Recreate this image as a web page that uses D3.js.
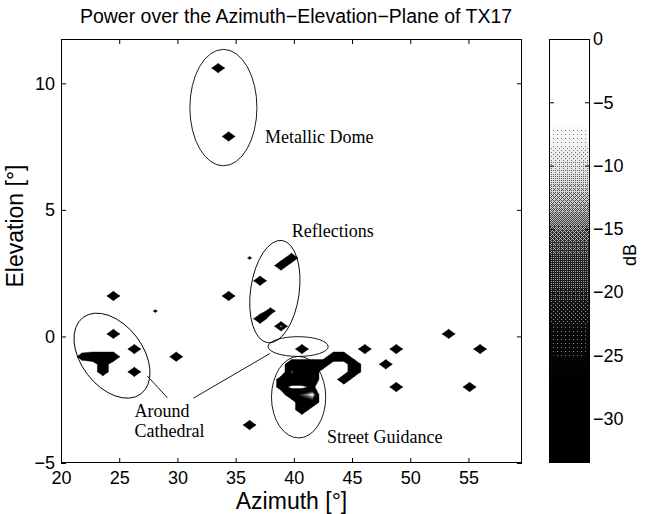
<!DOCTYPE html>
<html>
<head>
<meta charset="utf-8">
<script src="https://cdn.jsdelivr.net/npm/d3@7"></script>
<style>
  html, body { margin: 0; padding: 0; background: #fff; }
  svg { display: block; }
</style>
</head>
<body>
<svg id="chart" width="650" height="514"></svg>
<script>
// ---- axis ticks -------------------------------------------------------
const azTicks = [20, 25, 30, 35, 40, 45, 50, 55];
const elTicks = [-5, 0, 5, 10];
const dbTicks = [0, -5, -10, -15, -20, -25, -30];

// ---- measured power on the 0.9 deg x 0.3 deg beam grid ------------------
// [azimuth deg, elevation deg, level dB]; cells not listed are empty
const domePeaks = [[33.5, 10.6, -30], [34.4, 7.9, -30]];
const reflectionPeaks = [
  [37.1, 2.2, -30], [38.9, 2.8, -30], [39.8, 3.1, -30],
  [37.1, 0.7, -30], [38.0, 1.0, -39], [38.9, 0.4, -14]
];
const cathedralPeaks = [
  [21.8, -0.8, -38], [22.7, -0.8, -30], [23.6, -0.8, -30], [24.5, -0.8, -30],
  [23.6, -1.1, -36], [23.6, -1.4, -36]
];
const streetPeaks = [
  [39.8, -1.1, -30], [40.7, -1.1, -30], [41.6, -1.1, -30], [42.5, -1.1, -30],
  [39.8, -1.4, -20], [40.7, -1.4, -30], [41.6, -1.4, -30],
  [38.9, -1.7, -40], [39.8, -1.7, -30], [40.7, -1.7, -30], [41.6, -1.7, -30],
  [38.9, -2.0, -40], [39.8, -2.0, -53], [40.7, -2.0, -53], [41.6, -2.0, -45],
  [39.8, -2.3, -30], [40.7, -2.3, -20], [41.6, -2.3, -6],
  [40.7, -2.6, -30], [41.6, -2.6, -30],
  [40.7, -2.9, -30],
  [43.4, -0.8, -30], [44.3, -0.8, -30], [45.2, -1.1, -30], [45.2, -1.4, -30], [44.3, -1.7, -30]
];
const scatteredPeaks = [
  [24.5, 1.6, -30], [34.4, 1.6, -30], [24.5, 0.1, -30], [26.3, -0.5, -30],
  [29.9, -0.8, -30], [26.3, -1.4, -30], [36.2, -3.5, -30], [40.7, -0.5, -30],
  [46.1, -0.5, -30], [48.8, -0.5, -30], [47.9, -1.1, -30], [48.8, -2.0, -30],
  [53.3, 0.1, -30], [56.0, -0.5, -30], [55.1, -2.0, -30],
  [36.2, 3.1, -46], [28.1, 1.0, -46]
];

// ---- grey colour map (dB -> luminance) -------------------------------
const cmapDb  = [0, -6.5, -8, -10, -12, -14, -15.5, -17, -19.5, -21, -23, -25, -27.5, -34];
const cmapLum = [1, 1, 0.93, 0.82, 0.68, 0.52, 0.38, 0.28, 0.22, 0.14, 0.07, 0.035, 0, 0];

// ---- layout -----------------------------------------------------------
const svg = d3.select("#chart");
const plot = { l: 61, r: 522, t: 39, b: 463 };
const bar = { l: 549, r: 590 };
const AZ = [20, 59.6], EL = [-5, 11.75], DB_MIN = -33.5;

const x = d3.scaleLinear().domain(AZ).range([plot.l, plot.r]);
const y = d3.scaleLinear().domain(EL).range([plot.b, plot.t]);
const c = d3.scaleLinear().domain([DB_MIN, 0]).range([plot.b, plot.t]);
const lum = d3.scaleLinear().domain(cmapDb).range(cmapLum).clamp(true);
const grey = v => { const g = Math.round(255 * lum(v)); return d3.rgb(g, g, g).toString(); };

const sans = "'Liberation Sans', Arial, Helvetica, sans-serif";
const serif = "'Liberation Serif', 'Times New Roman', Times, serif";

// ---- title --------------------------------------------------------------
svg.append("text")
  .attr("x", 296).attr("y", 23)
  .attr("text-anchor", "middle")
  .style("font-family", sans).style("font-size", "19.5px")
  .text("Power over the Azimuth\u2212Elevation\u2212Plane of TX17");

// ---- beam grid and filled contours (linear along cell edges) ------------
const FLOOR = -60;      // empty cell
const BODY = -30;       // cap used for the outline of every detected path
const T_BODY = -48.6;   // lowest filled contour level
const GA = 0.9, GE = 0.3;
const gnx = Math.round((AZ[1] - AZ[0]) / GA) + 2;
const gny = Math.round((EL[1] - EL[0]) / GE) + 2;
const grid = new Float64Array(gnx * gny).fill(FLOOR);
[].concat(domePeaks, reflectionPeaks, cathedralPeaks, streetPeaks, scatteredPeaks)
  .forEach(([az, el, db]) => {
    const i = Math.round((az - AZ[0]) / GA), j = Math.round((el - EL[0]) / GE);
    const k = j * gnx + i;
    grid[k] = Math.max(grid[k], db);
  });

// region of every cell where the interpolated level is >= T
function levelPath(T, valueOf) {
  const toPx = ([a, b]) => x(AZ[0] + a * GA).toFixed(2) + "," + y(EL[0] + b * GE).toFixed(2);
  const ring = pts => "M" + pts.map(toPx).join("L") + "Z";
  const cross = (p, q, v, w) => {
    const t = (T - v) / (w - v);
    return [p[0] + t * (q[0] - p[0]), p[1] + t * (q[1] - p[1])];
  };
  let d = "";
  for (let j = 0; j < gny - 1; j++) {
    for (let i = 0; i < gnx - 1; i++) {
      const cs = [[i, j], [i + 1, j], [i + 1, j + 1], [i, j + 1]];
      const vs = cs.map(([a, b]) => valueOf(grid[b * gnx + a]));
      const hs = vs.map(v => v >= T);
      if (!hs.some(Boolean)) continue;
      const saddle = hs[0] === hs[2] && hs[1] === hs[3] && hs[0] !== hs[1];
      if (saddle && d3.mean(vs) < T) {
        // two separate corners
        for (let k = 0; k < 4; k++) {
          if (!hs[k]) continue;
          const n = (k + 1) % 4, p = (k + 3) % 4;
          d += ring([cs[k], cross(cs[k], cs[n], vs[k], vs[n]), cross(cs[k], cs[p], vs[k], vs[p])]);
        }
        continue;
      }
      const pts = [];
      for (let k = 0; k < 4; k++) {
        const n = (k + 1) % 4;
        if (hs[k]) pts.push(cs[k]);
        if (hs[k] !== hs[n]) pts.push(cross(cs[k], cs[n], vs[k], vs[n]));
      }
      d += ring(pts);
    }
  }
  return d;
}

svg.append("clipPath").attr("id", "plotClip")
  .append("rect")
  .attr("x", plot.l).attr("y", plot.t)
  .attr("width", plot.r - plot.l).attr("height", plot.b - plot.t);

const marks = svg.append("g").attr("clip-path", "url(#plotClip)");
const bodyFill = grey(DB_MIN - 5);
marks.append("path")
  .attr("d", levelPath(T_BODY, v => Math.min(v, BODY)))
  .attr("fill", bodyFill).attr("stroke", bodyFill)
  .attr("stroke-width", 0.4).attr("stroke-linejoin", "round");

const coreLevels = [-22, -17, -12, -7];
marks.selectAll("path.core")
  .data(coreLevels)
  .join("path")
  .attr("class", "core")
  .attr("d", T => levelPath(T, v => v))
  .attr("fill", (T, k) => grey((T + (coreLevels[k + 1] ?? 0)) / 2))
  .attr("stroke", (T, k) => grey((T + (coreLevels[k + 1] ?? 0)) / 2))
  .attr("stroke-width", 0.3);

// ---- annotations ---------------------------------------------------------
const ellipses = [
  { az: 33.95, el: 9.04, ra: 2.88, re: 2.3, rot: 0 },
  { az: 24.38, el: -0.76, ra: 4.12, re: 1.22, rot: 52.8 },
  { az: 38.37, el: 1.77, ra: 2.09, re: 2.04, rot: 8 },
  { az: 40.37, el: -0.4, ra: 2.58, re: 0.39, rot: 0 },
  { az: 40.41, el: -2.4, ra: 2.33, re: 1.61, rot: 0 }
];
const ann = svg.append("g").attr("clip-path", "url(#plotClip)");
ann.selectAll("ellipse")
  .data(ellipses)
  .join("ellipse")
  .attr("transform", d => `translate(${x(d.az)},${y(d.el)}) rotate(${d.rot})`)
  .attr("rx", d => x(AZ[0] + d.ra) - x(AZ[0]))
  .attr("ry", d => y(EL[0]) - y(EL[0] + d.re))
  .attr("fill", "none").attr("stroke", "#000").attr("stroke-width", 0.9);

const leaders = [
  { a: [27.41, -1.56], b: [29.13, -2.42] },
  { a: [31.37, -2.44], b: [37.96, -0.67] }
];
ann.selectAll("line.leader")
  .data(leaders)
  .join("line")
  .attr("class", "leader")
  .attr("x1", d => x(d.a[0])).attr("y1", d => y(d.a[1]))
  .attr("x2", d => x(d.b[0])).attr("y2", d => y(d.b[1]))
  .attr("stroke", "#000").attr("stroke-width", 0.9);

const notes = [
  { az: 37.52, el: 7.63, lines: ["Metallic Dome"] },
  { az: 39.82, el: 3.93, lines: ["Reflections"] },
  { az: 26.31, el: -3.17, lines: ["Around", "Cathedral"] },
  { az: 42.85, el: -4.21, lines: ["Street Guidance"] }
];
const noteText = ann.selectAll("text.note")
  .data(notes)
  .join("text")
  .attr("class", "note")
  .attr("x", d => x(d.az)).attr("y", d => y(d.el))
  .style("font-family", serif).style("font-size", "18px");
noteText.selectAll("tspan")
  .data(d => d.lines.map((t, i) => ({ t, i, az: d.az })))
  .join("tspan")
  .attr("x", d => x(d.az))
  .attr("dy", d => d.i === 0 ? 0 : 20)
  .text(d => d.t);

// ---- axes ----------------------------------------------------------------
const tickLen = 5;
const fmt = d => d < 0 ? "\u2212" + Math.abs(d) : String(d);

function styleAxis(g) {
  g.select(".domain").remove();
  g.selectAll("line").attr("stroke", "#000");
  g.selectAll("text").style("font-family", sans).style("font-size", "18px").attr("fill", "#000");
}

svg.append("g").attr("transform", `translate(0,${plot.b})`)
  .call(d3.axisBottom(x).tickValues(azTicks).tickSizeInner(-tickLen).tickSizeOuter(0).tickPadding(8).tickFormat(fmt))
  .call(styleAxis);
svg.append("g").attr("transform", `translate(0,${plot.t})`)
  .call(d3.axisTop(x).tickValues(azTicks).tickSizeInner(-tickLen).tickSizeOuter(0).tickFormat(""))
  .call(styleAxis);
svg.append("g").attr("transform", `translate(${plot.l},0)`)
  .call(d3.axisLeft(y).tickValues(elTicks).tickSizeInner(-tickLen).tickSizeOuter(0).tickPadding(6).tickFormat(fmt))
  .call(styleAxis);
svg.append("g").attr("transform", `translate(${plot.r},0)`)
  .call(d3.axisRight(y).tickValues(elTicks).tickSizeInner(-tickLen).tickSizeOuter(0).tickFormat(""))
  .call(styleAxis);

svg.append("rect")
  .attr("x", plot.l + 0.5).attr("y", plot.t + 0.5)
  .attr("width", plot.r - plot.l - 1).attr("height", plot.b - plot.t - 1)
  .attr("fill", "none").attr("stroke", "#000").attr("stroke-width", 1);

svg.append("text")
  .attr("x", (plot.l + plot.r) / 2).attr("y", 509)
  .attr("text-anchor", "middle")
  .style("font-family", sans).style("font-size", "23px")
  .text("Azimuth [\u00b0]");
svg.append("text")
  .attr("transform", "translate(23,226) rotate(-90)")
  .attr("text-anchor", "middle")
  .style("font-family", sans).style("font-size", "23px")
  .text("Elevation [\u00b0]");

// ---- colour bar (softened ordered dither of the grey map) -----------------
const bayer = [[0, 8, 2, 10], [12, 4, 14, 6], [3, 11, 1, 9], [15, 7, 13, 5]];
const cw = bar.r - bar.l, ch = plot.b - plot.t;
const canvas = document.createElement("canvas");
canvas.width = cw; canvas.height = ch;
const ctx = canvas.getContext("2d");
const img = ctx.createImageData(cw, ch);
for (let py = 0; py < ch; py++) {
  const g = lum(c.invert(plot.t + py + 0.5));
  for (let px = 0; px < cw; px++) {
    const bit = g > (bayer[py % 4][px % 4] + 0.5) / 16 ? 1 : 0;
    const v = Math.round(255 * (0.5 * g + 0.5 * bit));
    const o = 4 * (py * cw + px);
    img.data[o] = img.data[o + 1] = img.data[o + 2] = v;
    img.data[o + 3] = 255;
  }
}
ctx.putImageData(img, 0, 0);
svg.append("image")
  .attr("href", canvas.toDataURL())
  .attr("x", bar.l).attr("y", plot.t)
  .attr("width", cw).attr("height", ch)
  .attr("preserveAspectRatio", "none")
  .style("image-rendering", "pixelated");

svg.append("g").attr("transform", `translate(${bar.r},0)`)
  .call(d3.axisRight(c).tickValues(dbTicks).tickSizeInner(-tickLen).tickSizeOuter(0).tickPadding(3).tickFormat(fmt))
  .call(styleAxis);
svg.append("g").attr("transform", `translate(${bar.l},0)`)
  .call(d3.axisLeft(c).tickValues(dbTicks).tickSizeInner(-tickLen).tickSizeOuter(0).tickFormat(""))
  .call(styleAxis);
svg.append("rect")
  .attr("x", bar.l + 0.5).attr("y", plot.t + 0.5)
  .attr("width", cw - 1).attr("height", ch - 1)
  .attr("fill", "none").attr("stroke", "#000").attr("stroke-width", 1);

svg.append("text")
  .attr("transform", `translate(636,${(plot.t + plot.b) / 2 + 4}) rotate(-90)`)
  .attr("text-anchor", "middle")
  .style("font-family", sans).style("font-size", "18px")
  .text("dB");
</script>
</body>
</html>
